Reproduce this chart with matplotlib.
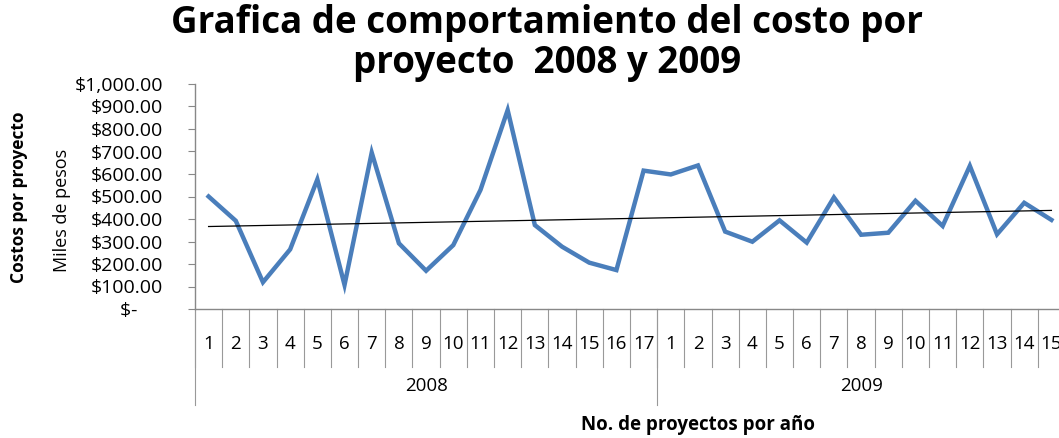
import numpy as np
import matplotlib
matplotlib.use("Agg")
import matplotlib.pyplot as plt
from matplotlib.ticker import FuncFormatter

plt.rcParams['font.family'] = ['Open Sans', 'DejaVu Sans']

# data (miles de pesos)
years = ['2008', '2009']
projects_2008 = list(range(1, 18))
projects_2009 = list(range(1, 16))
costs_2008 = [500, 392, 119, 265, 576, 107, 695, 292, 170, 284,
              529, 884, 373, 277, 206, 173, 615]
costs_2009 = [598, 638, 344, 299, 394, 295, 496, 330, 339, 481,
              369, 636, 332, 472, 396]

costs = costs_2008 + costs_2009
labels = [str(p) for p in projects_2008 + projects_2009]
n = len(costs)
x = np.arange(n)

W, H = 1059, 438
fig = plt.figure(figsize=(W / 100, H / 100), dpi=100)
ax = fig.add_axes([195 / W, 1 - 309 / H, 870 / W, 225 / H])

ax.plot(x, costs, color='#4A7EBB', linewidth=3.2, solid_joinstyle='miter')

# linear trend line
slope, intercept = np.polyfit(x, costs, 1)
ax.plot(x, slope * x + intercept, color='black', linewidth=0.9)

ax.set_xlim(-0.5, n - 0.5)
ax.set_ylim(0, 1000)
ax.set_yticks(np.arange(0, 1001, 100))


def money(v, pos):
    if v == 0:
        return '$-     '
    return f'${v:,.2f}'


ax.yaxis.set_major_formatter(FuncFormatter(money))
ax.tick_params(axis='y', labelsize=14, length=5, color='#888888',
               direction='out', pad=18)
ax.set_xticks([])

for side in ['top', 'right']:
    ax.spines[side].set_visible(False)
for side in ['left', 'bottom']:
    ax.spines[side].set_color('#888888')
    ax.spines[side].set_linewidth(1.0)

# multi-level category axis
tr = ax.get_xaxis_transform()
grey = '#999999'
for b in range(n + 1):
    ax.plot([b - 0.5, b - 0.5], [0, -0.258], color=grey, linewidth=0.8,
            transform=tr, clip_on=False)
for i, lab in enumerate(labels):
    ax.text(i, -0.155, lab, transform=tr, ha='center', va='center',
            fontsize=13.5)

bounds = [0, len(costs_2008), n]
for b in bounds:
    ax.plot([b - 0.5, b - 0.5], [0, -0.427], color=grey, linewidth=0.8,
            transform=tr, clip_on=False)
for k, yr in enumerate(years):
    mid = (bounds[k] + bounds[k + 1] - 1) / 2
    ax.text(mid, -0.343, yr, transform=tr, ha='center', va='center',
            fontsize=13.5)

fig.text(698 / W, 1 - 425 / H, 'No. de proyectos por año', ha='center',
         va='center', fontsize=13.5, fontweight='bold')
fig.text(19 / W, 1 - 197 / H, 'Costos por proyecto', rotation=90,
         ha='center', va='center', fontsize=12.5, fontweight='bold')
fig.text(62 / W, 1 - 210 / H, 'Miles de pesos', rotation=90,
         ha='center', va='center', fontsize=13)

fig.text(547 / W, 1 - 43 / H,
         'Grafica de comportamiento del costo por\nproyecto  2008 y 2009',
         ha='center', va='center', fontsize=26.5, fontweight='bold',
         linespacing=1.1)

fig.savefig('out.png', dpi=100)
